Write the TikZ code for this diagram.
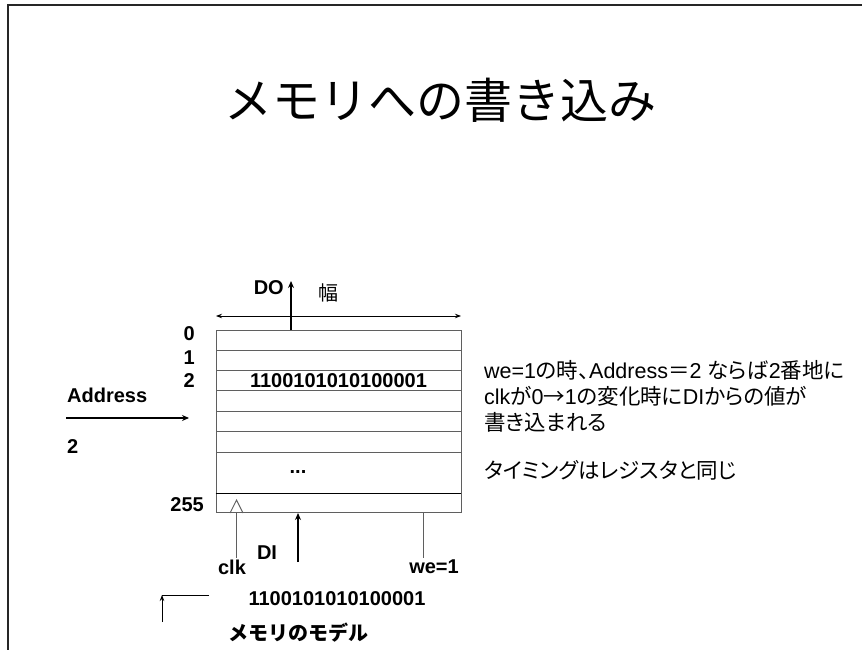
\documentclass[tikz,border=0pt]{standalone}
\usepackage{fontspec}
\setmainfont{Liberation Sans}
\newfontfamily\jp{Noto Sans CJK JP}
\newfontfamily\jpp[RawFeature=+palt]{Noto Sans CJK JP}
\usetikzlibrary{arrows.meta}
\definecolor{linegray}{RGB}{95,95,95}
\tikzset{
  rowbox/.style={draw=linegray, line width=0.9pt, minimum width=245pt, inner sep=0pt, anchor=center},
  lbl/.style={font=\bfseries\fontsize{20}{24}\selectfont, inner sep=0pt},
  thickarr/.style={line width=1.6pt, -{Stealth[length=7pt,width=6pt]}},
  thinline/.style={draw=linegray, line width=0.9pt},
  body/.style={font=\fontsize{21.5}{26}\selectfont, inner sep=0pt, anchor=base west}
}
\begin{document}
\begin{tikzpicture}[x=1pt,y=-1pt]
\useasboundingbox (0,0) rectangle (862,650);
% slide frame
\draw[line width=2.4pt, color=black!85] (8,680) -- (8,5) -- (900,5);
% title
\node[font=\jp\fontsize{48}{56}\selectfont, inner sep=0pt] (title) at (440,100) {メモリへの書き込み};
% memory rows
\node[rowbox, minimum height=20.7pt] (r0) at (338.5,340.35) {};
\node[rowbox, minimum height=20pt] (r1) at (338.5,360.7) {};
\node[rowbox, minimum height=20pt, font=\bfseries\fontsize{20}{24}\selectfont] (r2) at (338.5,380.7) {1100101010100001};
\node[rowbox, minimum height=20.3pt] (r3) at (338.5,400.85) {};
\node[rowbox, minimum height=20.7pt] (r4) at (338.5,421.35) {};
\node[rowbox, minimum height=20.3pt] (r5) at (338.5,441.85) {};
\node[rowbox, minimum height=41.3pt] (rd) at (338.5,472.65) {};
\node[rowbox, minimum height=19.4pt] (r255) at (338.5,503) {};
\draw[line width=1.3pt] (rd.south west) -- (rd.south east);
\node[lbl] (dots) at (298,472) {...};
% address labels
\node[lbl, anchor=east] (l0) at (195,334) {0};
\node[lbl, anchor=east] (l1) at (195,358) {1};
\node[lbl, anchor=east] (l2) at (195,381) {2};
\node[lbl, anchor=east] (l255) at (204,505) {255};
% Address input
\node[lbl, anchor=west] (addr) at (67,395) {Address};
\node[lbl, anchor=west] (addrv) at (67,447) {2};
\coordinate (addrs) at (66,418);
\coordinate (addre) at (189,418);
\draw[thickarr] (addrs) -- (addre);
% DO output and width
\coordinate (dostart) at (291,330);
\coordinate (doend) at (291,281);
\draw[thickarr] (dostart) -- (doend);
\node[lbl, anchor=east] (do) at (284,288) {DO};
\node[font=\jp\fontsize{20}{24}\selectfont, inner sep=0pt] (haba) at (328,293) {幅};
\coordinate (wl) at (216,316);
\coordinate (wr) at (461,316);
\draw[line width=0.9pt, {Stealth[length=6pt,width=4.5pt]}-{Stealth[length=6pt,width=4.5pt]}] (wl) -- (wr);
% clk
\coordinate (tl) at (230,513);
\coordinate (tr) at (243,513);
\coordinate (ta) at (236.5,500);
\draw[thinline, line join=miter] (tl) -- (ta) -- (tr);
\coordinate (clkb) at (236.5,558);
\draw[thinline] (236.5,513) -- (clkb);
\node[lbl] (clk) at (232,567) {clk};
% DI
\coordinate (dis) at (298,562);
\coordinate (die) at (298,513);
\draw[thickarr] (dis) -- (die);
\node[lbl] (di) at (267,553) {DI};
% we
\coordinate (web) at (423,558);
\draw[thinline] (423,513) -- (web);
\node[lbl] (we) at (434,567) {we=1};
% bottom
\node[lbl] (val) at (337,599) {1100101010100001};
\coordinate (ca) at (209,595);
\coordinate (cb) at (162,595);
\coordinate (cc) at (162,622);
\draw[line width=0.8pt] (ca) -- (cb);
\draw[line width=0.8pt, -{Stealth[length=6pt,width=4.5pt]}] (cc) -- (cb);
\node[font=\jp\bfseries\fontsize{20}{24}\selectfont, inner sep=0pt] (model) at (298,633) {メモリのモデル};
% explanation
\node[body] (expl1) at (484,378) {we=1{\jpp の時、}Address{\jpp ＝}2 {\jpp ならば}2{\jpp 番地に}};
\node[body] (expl2) at (484,404) {clk{\jpp が}0{\jpp →}1{\jpp の変化時に}DI{\jpp からの値が}};
\node[body] (expl3) at (484,430) {\jpp 書き込まれる};
\node[body] (timing) at (484,478) {\jpp タイミングはレジスタと同じ};
\end{tikzpicture}
\end{document}
